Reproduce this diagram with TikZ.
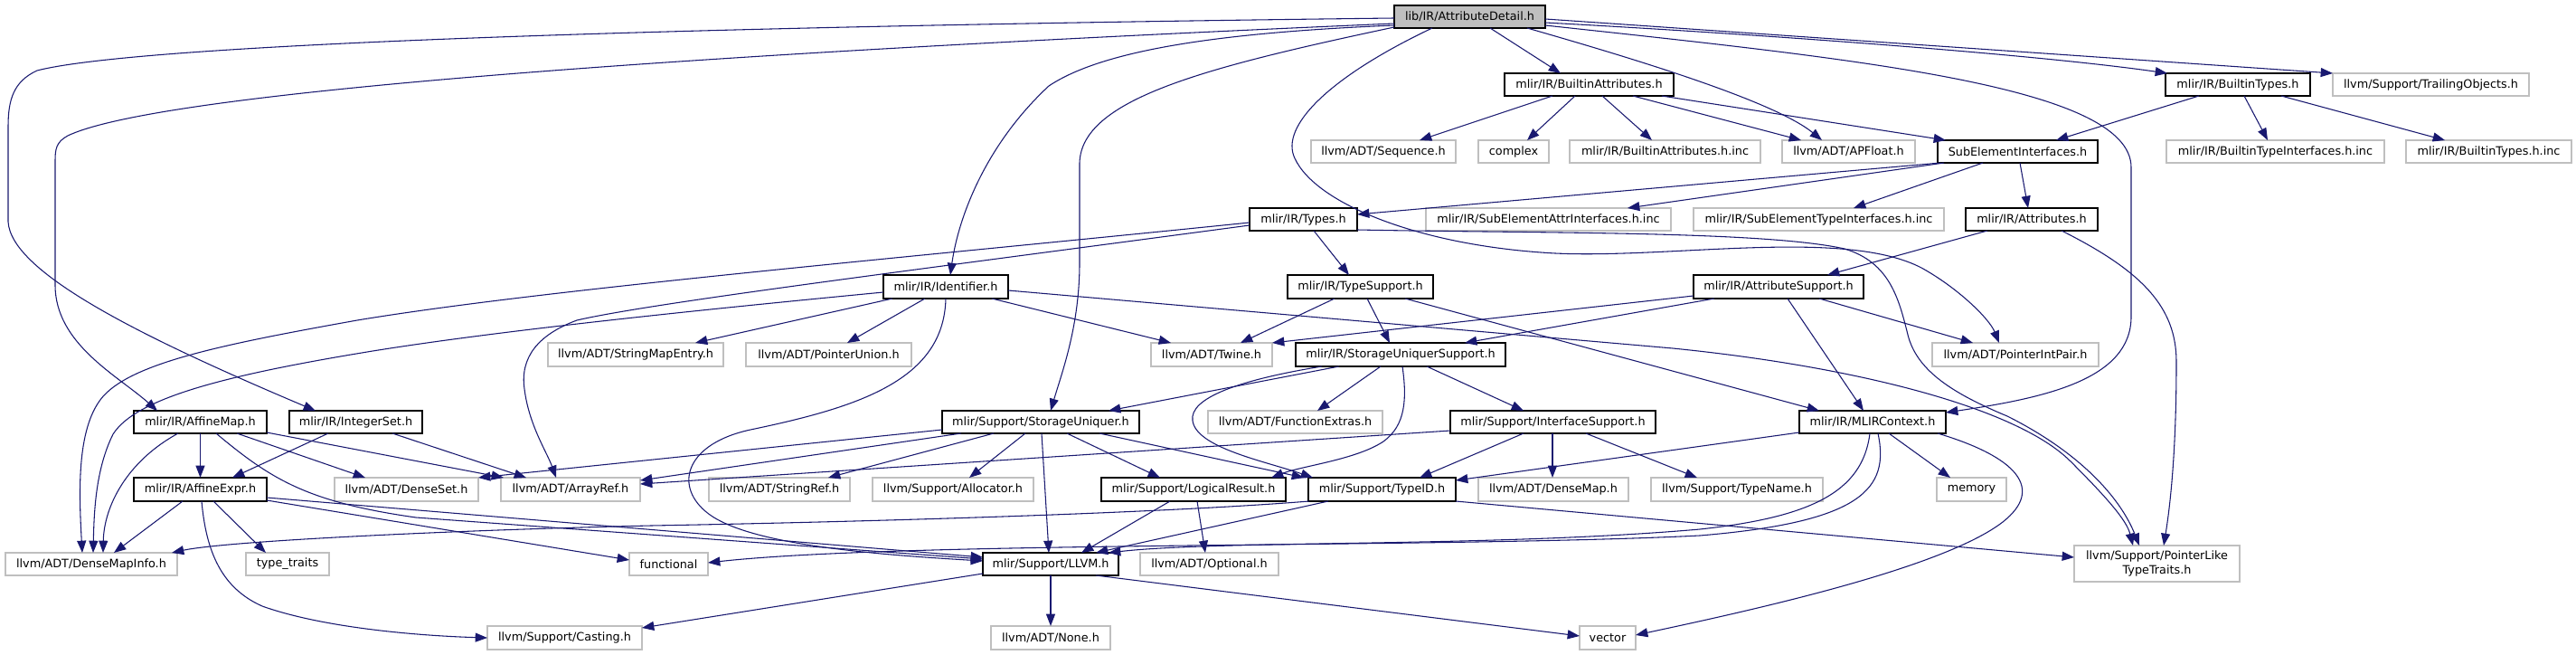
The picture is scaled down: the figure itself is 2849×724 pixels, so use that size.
\documentclass[tikz,border=0pt]{standalone}
\usepackage{fontspec}
\setmainfont{DejaVu Sans}
\usetikzlibrary{arrows.meta}
\definecolor{eblue}{HTML}{191970}
\definecolor{leafgray}{HTML}{BFBFBF}
\newcommand\mknode[7]{\node[#1,minimum width={(#5-#3)*0.75pt},minimum height={(#6-#4)*0.75pt}] (#2) at ({(#3+#5)/2},{(#4+#6)/2}) {#7};}
\tikzset{
  nbox/.style={rectangle, inner sep=0pt, outer sep=0pt, align=center, font=\fontsize{9.6pt}{11.5pt}\selectfont, line width=0.9pt, fill=white},
  nleaf/.style={nbox, draw=leafgray},
  nhdr/.style={nbox, draw=black},
  nroot/.style={nbox, draw=black, fill=leafgray},
  conn/.style={draw=eblue, line width=0.8pt, -{Triangle[length=10pt,width=7.5pt]}}
}
\begin{document}
\begin{tikzpicture}[x=0.75pt,y=-0.75pt]
\useasboundingbox (0,0) rectangle (2849,724);
\fill[white] (0,0) rectangle (2849,724);
% nodes
\mknode{nroot}{AD}{1542}{6}{1709}{31}{lib/IR/AttributeDetail.h}
\mknode{nhdr}{BA}{1664}{81}{1851}{106}{mlir/IR/BuiltinAttributes.h}
\mknode{nhdr}{BT}{2395}{81}{2555}{106}{mlir/IR/BuiltinTypes.h}
\mknode{nleaf}{TO}{2580}{81}{2797}{106}{llvm/Support/TrailingObjects.h}
\mknode{nleaf}{Seq}{1450}{155}{1610}{180}{llvm/ADT/Sequence.h}
\mknode{nleaf}{cplx}{1635}{155}{1713}{180}{complex}
\mknode{nleaf}{BAinc}{1736}{155}{1947}{180}{mlir/IR/BuiltinAttributes.h.inc}
\mknode{nleaf}{APF}{1971}{155}{2118}{180}{llvm/ADT/APFloat.h}
\mknode{nhdr}{SEI}{2143}{155}{2320}{180}{SubElementInterfaces.h}
\mknode{nleaf}{BTIinc}{2396}{155}{2637}{180}{mlir/IR/BuiltinTypeInterfaces.h.inc}
\mknode{nleaf}{BTinc}{2661}{155}{2844}{180}{mlir/IR/BuiltinTypes.h.inc}
\mknode{nhdr}{Types}{1382}{230}{1501}{255}{mlir/IR/Types.h}
\mknode{nleaf}{SEAinc}{1577}{230}{1848}{255}{mlir/IR/SubElementAttrInterfaces.h.inc}
\mknode{nleaf}{SETinc}{1873}{230}{2150}{255}{mlir/IR/SubElementTypeInterfaces.h.inc}
\mknode{nhdr}{Attr}{2174}{230}{2320}{255}{mlir/IR/Attributes.h}
\mknode{nhdr}{Ident}{977}{304}{1115}{330}{mlir/IR/Identifier.h}
\mknode{nhdr}{TS}{1424}{304}{1585}{330}{mlir/IR/TypeSupport.h}
\mknode{nhdr}{AS}{1873}{304}{2061}{330}{mlir/IR/AttributeSupport.h}
\mknode{nleaf}{SME}{606}{379}{800}{405}{llvm/ADT/StringMapEntry.h}
\mknode{nleaf}{PU}{825}{379}{1008}{405}{llvm/ADT/PointerUnion.h}
\mknode{nleaf}{Twine}{1273}{379}{1407}{405}{llvm/ADT/Twine.h}
\mknode{nhdr}{SUS}{1433}{379}{1665}{405}{mlir/IR/StorageUniquerSupport.h}
\mknode{nleaf}{PIP}{2137}{379}{2321}{405}{llvm/ADT/PointerIntPair.h}
\mknode{nhdr}{AM}{148}{454}{295}{479}{mlir/IR/AffineMap.h}
\mknode{nhdr}{IntS}{320}{454}{467}{479}{mlir/IR/IntegerSet.h}
\mknode{nhdr}{SU}{1042}{454}{1260}{479}{mlir/Support/StorageUniquer.h}
\mknode{nleaf}{FE}{1336}{454}{1529}{479}{llvm/ADT/FunctionExtras.h}
\mknode{nhdr}{IS}{1604}{454}{1831}{479}{mlir/Support/InterfaceSupport.h}
\mknode{nhdr}{MC}{1990}{454}{2152}{479}{mlir/IR/MLIRContext.h}
\mknode{nhdr}{AE}{148}{528}{295}{554}{mlir/IR/AffineExpr.h}
\mknode{nleaf}{DS}{370}{528}{529}{554}{llvm/ADT/DenseSet.h}
\mknode{nleaf}{AR}{554}{528}{708}{554}{llvm/ADT/ArrayRef.h}
\mknode{nleaf}{SR}{784}{528}{940}{554}{llvm/ADT/StringRef.h}
\mknode{nleaf}{Alloc}{965}{528}{1143}{554}{llvm/Support/Allocator.h}
\mknode{nhdr}{LR}{1218}{528}{1422}{554}{mlir/Support/LogicalResult.h}
\mknode{nhdr}{TID}{1447}{528}{1610}{554}{mlir/Support/TypeID.h}
\mknode{nleaf}{DM}{1635}{528}{1801}{554}{llvm/ADT/DenseMap.h}
\mknode{nleaf}{TN}{1826}{528}{2016}{554}{llvm/Support/TypeName.h}
\mknode{nleaf}{mem}{2142}{528}{2219}{554}{memory}
\mknode{nleaf}{DMI}{6}{611}{196}{636}{llvm/ADT/DenseMapInfo.h}
\mknode{nleaf}{tt}{272}{611}{364}{636}{type\_traits}
\mknode{nleaf}{func}{696}{611}{783}{636}{functional}
\mknode{nhdr}{LLVM}{1087}{611}{1237}{636}{mlir/Support/LLVM.h}
\mknode{nleaf}{Opt}{1261}{611}{1414}{636}{llvm/ADT/Optional.h}
\mknode{nleaf}{PLTT}{2294}{603}{2477}{643}{llvm/Support/PointerLike\\TypeTraits.h}
\mknode{nleaf}{Cast}{539}{692}{710}{718}{llvm/Support/Casting.h}
\mknode{nleaf}{None}{1096}{692}{1228}{718}{llvm/ADT/None.h}
\mknode{nleaf}{vec}{1747}{692}{1809}{718}{vector}
% edges from AttributeDetail
\draw[conn] (AD.west |- 0,20) .. controls (700,30) and (150,50) .. (41,78) .. controls (15,90) and (9,110) .. (9,140) -- (9,245) .. controls (12,300) and (150,370) .. (IntS.north -| 349,0);
\draw[conn] (AD.west |- 0,26) .. controls (800,58) and (180,100) .. (75,150) .. controls (62,157) and (61,165) .. (61,178) -- (61,315) .. controls (61,380) and (130,415) .. (AM.north -| 174,0);
\draw[conn] (AD.west |- 0,28) .. controls (1350,36) and (1220,55) .. (1160,95) .. controls (1090,160) and (1060,240) .. (Ident.north -| 1051,0);
\draw[conn] (AD.west |- 0,30) .. controls (1330,75) and (1196,110) .. (1194,180) -- (1194,290) .. controls (1194,360) and (1175,410) .. (SU.north -| 1162,0);
\draw[conn] (AD.south -| 1584,0) .. controls (1470,85) and (1415,140) .. (1432,175) .. controls (1455,225) and (1570,272) .. (1720,280) .. controls (1850,286) and (2040,252) .. (2125,296) .. controls (2165,318) and (2200,352) .. (PIP.north -| 2211,0);
\draw[conn] (AD.south -| 1648,0) -- (BA.north -| 1726,0);
\draw[conn] (AD.south -| 1689,0) .. controls (1790,60) and (1960,110) .. (APF.north -| 2015,0);
\draw[conn] (AD.east |- 0,25) .. controls (1950,38) and (2250,60) .. (BT.north -| 2397,0);
\draw[conn] (AD.east |- 0,21) -- (TO.north west);
\draw[conn] (AD.east |- 0,28) .. controls (2050,65) and (2357,95) .. (2357,185) -- (2357,350) .. controls (2357,420) and (2260,440) .. (MC.east |- 0,456);
% BuiltinAttributes
\draw[conn] (BA.south -| 1717,0) -- (Seq.north -| 1570,0);
\draw[conn] (BA.south -| 1742,0) -- (cplx.north -| 1689,0);
\draw[conn] (BA.south -| 1772,0) -- (BAinc.north -| 1827,0);
\draw[conn] (BA.south -| 1806,0) -- (APF.north -| 1992,0);
\draw[conn] (BA.south -| 1838,0) -- (SEI.north -| 2152,0);
% BuiltinTypes
\draw[conn] (BT.south -| 2432,0) -- (SEI.north -| 2274,0);
\draw[conn] (BT.south -| 2482,0) -- (BTIinc.north -| 2508,0);
\draw[conn] (BT.south -| 2523,0) -- (BTinc.north -| 2704,0);
% SubElementInterfaces
\draw[conn] (SEI.south -| 2146,0) -- (Types.east |- 0,237);
\draw[conn] (SEI.south -| 2150,0) -- (SEAinc.north -| 1800,0);
\draw[conn] (SEI.south -| 2193,0) -- (SETinc.north -| 2050,0);
\draw[conn] (SEI.south -| 2234,0) -- (Attr.north -| 2243,0);
% Types
\draw[conn] (Types.south -| 1453,0) -- (TS.north -| 1492,0);
\draw[conn] (Types.west |- 0,249) .. controls (1000,300) and (720,335) .. (638,354) .. controls (595,370) and (575,395) .. (580,430) .. controls (585,470) and (605,500) .. (AR.north -| 615,0);
\draw[conn] (Types.west |- 0,246) .. controls (1000,285) and (600,320) .. (395,354) .. controls (250,380) and (150,400) .. (115,437) .. controls (85,470) and (87,540) .. (DMI.north -| 91,0);
\draw[conn] (Types.east |- 0,254) .. controls (1700,258) and (1950,255) .. (2040,275) .. controls (2090,290) and (2100,330) .. (2110,370) .. controls (2120,410) and (2160,435) .. (2220,460) .. controls (2300,500) and (2345,550) .. (PLTT.north -| 2366,0);
% Identifier
\draw[conn] (Ident.west |- 0,323) .. controls (800,340) and (550,365) .. (400,390) .. controls (250,415) and (150,440) .. (125,480) .. controls (105,520) and (104,570) .. (DMI.north -| 103,0);
\draw[conn] (Ident.south -| 987,0) -- (SME.north -| 769,0);
\draw[conn] (Ident.south -| 1023,0) -- (PU.north -| 937,0);
\draw[conn] (Ident.south -| 1046,0) .. controls (1044,420) and (950,450) .. (830,475) .. controls (760,490) and (745,535) .. (780,565) .. controls (820,600) and (950,612) .. (LLVM.west |- 0,620);
\draw[conn] (Ident.south -| 1097,0) -- (Twine.north -| 1295,0);
\draw[conn] (Ident.east |- 0,321) -- (1850,385) .. controls (2050,405) and (2230,450) .. (2290,510) .. controls (2330,550) and (2352,575) .. (PLTT.north -| 2359,0);
% TypeSupport
\draw[conn] (TS.south -| 1476,0) -- (Twine.north -| 1372,0);
\draw[conn] (TS.south -| 1512,0) -- (SUS.north -| 1537,0);
\draw[conn] (TS.south -| 1554,0) -- (MC.north -| 2012,0);
% AttributeSupport
\draw[conn] (AS.west |- 0,327) -- (Twine.north east);
\draw[conn] (AS.south -| 1896,0) -- (SUS.north -| 1620,0);
\draw[conn] (AS.south -| 1977,0) -- (MC.north -| 2061,0);
\draw[conn] (AS.south -| 2012,0) -- (PIP.north -| 2182,0);
% Attributes
\draw[conn] (Attr.south -| 2198,0) -- (AS.north -| 2021,0);
\draw[conn] (Attr.south -| 2280,0) .. controls (2370,300) and (2407,340) .. (2407,400) .. controls (2407,500) and (2400,560) .. (PLTT.north -| 2393,0);
% StorageUniquerSupport
\draw[conn] (SUS.south -| 1481,0) -- (SU.north -| 1226,0);
\draw[conn] (SUS.south -| 1462,0) .. controls (1370,420) and (1315,440) .. (1319,465) .. controls (1323,495) and (1400,510) .. (TID.north -| 1452,0);
\draw[conn] (SUS.south -| 1551,0) .. controls (1556,440) and (1555,470) .. (1530,488) .. controls (1500,508) and (1440,515) .. (LR.north -| 1406,0);
\draw[conn] (SUS.south -| 1527,0) -- (FE.north -| 1457,0);
\draw[conn] (SUS.south -| 1578,0) -- (IS.north -| 1685,0);
% StorageUniquer
\draw[conn] (SU.west |- 0,475) -- (DS.north east);
\draw[conn] (SU.south -| 1063,0) -- (AR.east |- 0,531);
\draw[conn] (SU.south -| 1099,0) -- (SR.north -| 916,0);
\draw[conn] (SU.south -| 1134,0) -- (Alloc.north -| 1072,0);
\draw[conn] (SU.south -| 1152,0) -- (LLVM.north -| 1160,0);
\draw[conn] (SU.south -| 1180,0) -- (LR.north -| 1283,0);
\draw[conn] (SU.south -| 1216,0) -- (TID.north -| 1442,0);
% InterfaceSupport
\draw[conn] (IS.west |- 0,476) -- (AR.east |- 0,535);
\draw[conn] (IS.south -| 1685,0) -- (TID.north -| 1570,0);
\draw[conn] (IS.south -| 1717,0) -- (DM.north -| 1717,0);
\draw[conn] (IS.south -| 1754,0) -- (TN.north -| 1877,0);
% MLIRContext
\draw[conn] (MC.west |- 0,478) -- (TID.east |- 0,531);
\draw[conn] (MC.south -| 2068,0) .. controls (2060,545) and (2000,572) .. (1880,585) .. controls (1650,605) and (1350,597) .. (LLVM.north -| 1226,0);
\draw[conn] (MC.south -| 2077,0) .. controls (2090,540) and (2060,577) .. (1880,592) .. controls (1600,606) and (1000,598) .. (func.east |- 0,622);
\draw[conn] (MC.south -| 2089,0) -- (mem.north -| 2157,0);
\draw[conn] (MC.south -| 2143,0) .. controls (2230,505) and (2262,540) .. (2215,577) .. controls (2150,627) and (1950,672) .. (vec.east |- 0,702);
% TypeID
\draw[conn] (TID.south -| 1448,0) .. controls (1300,566) and (1000,576) .. (720,581) .. controls (500,586) and (250,598) .. (DMI.north -| 190,0);
\draw[conn] (TID.south -| 1469,0) -- (LLVM.north -| 1212,0);
\draw[conn] (TID.south east) -- (PLTT.west |- 0,616);
% LogicalResult
\draw[conn] (LR.south -| 1294,0) -- (LLVM.north -| 1196,0);
\draw[conn] (LR.south -| 1324,0) -- (Opt.north -| 1333,0);
% LLVM
\draw[conn] (LLVM.west |- 0,634) -- (Cast.east |- 0,694);
\draw[conn] (LLVM.south) -- (None.north);
\draw[conn] (LLVM.south -| 1212,0) -- (vec.west |- 0,703);
% AffineMap
\draw[conn] (AM.south -| 197,0) .. controls (140,510) and (115,560) .. (DMI.north -| 114,0);
\draw[conn] (AM.south) -- (AE.north);
\draw[conn] (AM.south -| 239,0) .. controls (300,530) and (340,555) .. (460,572) -- (LLVM.west |- 0,618);
\draw[conn] (AM.south -| 262,0) -- (DS.north -| 404,0);
\draw[conn] (AM.east |- 0,478) -- (AR.north -| 557,0);
% IntegerSet
\draw[conn] (IntS.south -| 363,0) -- (AE.north -| 257,0);
\draw[conn] (IntS.south -| 434,0) -- (AR.north -| 582,0);
% AffineExpr
\draw[conn] (AE.south -| 202,0) -- (DMI.north -| 126,0);
\draw[conn] (AE.south -| 223,0) .. controls (228,610) and (245,650) .. (290,670) .. controls (360,695) and (470,703) .. (Cast.west |- 0,705);
\draw[conn] (AE.south -| 236,0) -- (tt.north -| 294,0);
\draw[conn] (AE.east |- 0,553) -- (func.west |- 0,619);
\draw[conn] (AE.east |- 0,550) -- (LLVM.west |- 0,616);
\end{tikzpicture}
\end{document}
